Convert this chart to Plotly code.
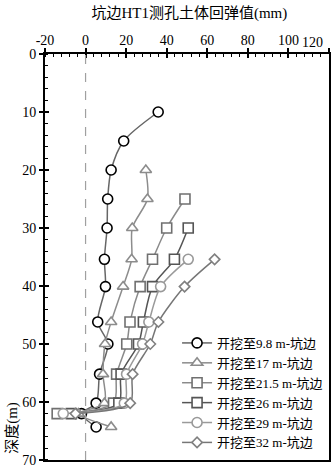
import plotly.graph_objects as go

FONT = "Liberation Serif, 'Noto Sans CJK SC', serif"

# depths (m)
d_98 = [10, 15, 20, 25, 30, 35.4, 40.1, 46.2, 50, 55.2, 60.2, 62, 64.3]
v_98 = [35.8, 18.8, 12.6, 10.9, 10.6, 9.3, 9.8, 6.0, 11.0, 6.9, 5.2, -2.0, 5.2]

d_17 = [20, 25, 30, 35.4, 40.1, 46.2, 50, 55.2, 60.2, 62, 64.3]
v_17 = [29.7, 30.5, 23.0, 22.7, 18.5, 12.6, 9.6, 8.6, 9.3, -3.5, 12.6]

d_215 = [25, 30, 35.4, 40.1, 46.2, 50, 55.2, 60.2, 62]
v_215 = [49.0, 40.0, 33.0, 26.9, 21.9, 20.3, 15.3, 13.8, -14.0]

d_26 = [30, 35.4, 40.1, 46.2, 50, 55.2, 60.2, 62]
v_26 = [50.6, 43.8, 33.0, 28.5, 26.1, 17.5, 16.4, -7.0]

d_29 = [35.4, 40.1, 46.2, 50, 55.2, 60.2, 62]
v_29 = [50.6, 37.0, 31.2, 28.1, 20.2, 19.1, -11.0]

d_32 = [35.4, 40.1, 46.2, 50, 55.2, 60.2, 62]
v_32 = [63.6, 48.8, 35.9, 31.9, 23.2, 22.0, -5.0]

names = ["开挖至9.8 m-坑边", "开挖至17 m-坑边", "开挖至21.5 m-坑边",
         "开挖至26 m-坑边", "开挖至29 m-坑边", "开挖至32 m-坑边"]

x_tick_vals = [-20, 0, 20, 40, 60, 80, 100, 120]
x_tick_text = ["-20", "0", "20", "40", "60", "80", "100", ""]
x_last_label = "120"   # drawn as an annotation, nudged inside the page like the original
y_tick_vals = [0, 10, 20, 30, 40, 50, 60, 70]

series = [
    (v_98, d_98, "circle", "#000000", "#666666", 10),
    (v_17, d_17, "triangle-up", "#8c8c8c", "#8c8c8c", 10),
    (v_215, d_215, "square", "#707070", "#8a8a8a", 10),
    (v_26, d_26, "square", "#555555", "#555555", 10),
    (v_29, d_29, "circle", "#999999", "#9a9a9a", 10),
    (v_32, d_32, "diamond", "#808080", "#767676", 8),
]

fig = go.Figure()
for (vx, dy, sym, mcol, lcol, sz), nm in zip(series, names):
    fig.add_trace(go.Scatter(
        x=vx, y=dy, name=nm, mode="lines+markers",
        line=dict(color=lcol, width=1.5, shape="spline", smoothing=0.8),
        marker=dict(symbol=sym, size=sz, color="white",
                    line=dict(color=mcol, width=1.6)),
    ))

# dummy trace for the overlay axes (inner half of crossing major ticks)
fig.add_trace(go.Scatter(x=[0], y=[0], xaxis="x2", yaxis="y2", mode="markers",
                         marker=dict(opacity=0), showlegend=False, hoverinfo="skip"))

fig.add_vline(x=0, line=dict(color="#a0a0a0", width=1.2, dash="dash"))

axis_common = dict(showgrid=False, zeroline=False, showline=True, linecolor="black",
                   linewidth=2, tickcolor="black", tickwidth=1.5,
                   tickfont=dict(family=FONT, size=14, color="black"))

fig.update_layout(
    width=334, height=471,
    margin=dict(l=45, r=3, t=54, b=8),
    plot_bgcolor="white", paper_bgcolor="white",
    font=dict(family=FONT, color="black"),
    title=dict(text="坑边HT1测孔土体回弹值(mm)", x=0.567, xanchor="center",
               y=0.973, yanchor="middle", font=dict(family=FONT, size=15, color="black")),
    xaxis=dict(range=[-20, 120.001], tickmode="array", tickvals=x_tick_vals,
               ticktext=x_tick_text, side="top", ticks="outside", ticklen=4,
               ticklabelstandoff=-3, mirror=True,
               minor=dict(dtick=4, tick0=0, ticks="inside", ticklen=3, tickcolor="black",
                          tickwidth=1),
               **axis_common),
    yaxis=dict(range=[70.001, 0], tickmode="array", tickvals=y_tick_vals,
               ticks="outside", ticklen=4, mirror=True,
               minor=dict(dtick=2, tick0=0, ticks="inside", ticklen=3, tickcolor="black",
                          tickwidth=1),
               **axis_common),
    xaxis2=dict(range=[-20, 120.001], tickmode="array", tickvals=x_tick_vals,
                overlaying="x", side="top",
                ticks="inside", ticklen=4, tickcolor="black", tickwidth=1.5,
                showticklabels=False, showgrid=False, zeroline=False, showline=False),
    yaxis2=dict(range=[70.001, 0], tickmode="array", tickvals=y_tick_vals,
                overlaying="y", side="left",
                ticks="inside", ticklen=4, tickcolor="black", tickwidth=1.5,
                showticklabels=False, showgrid=False, zeroline=False, showline=False),
    legend=dict(x=0.465, xanchor="left", y=0.005, yanchor="bottom",
                bgcolor="rgba(255,255,255,0)", borderwidth=0,
                font=dict(family=FONT, size=13, color="black"),
                tracegroupgap=0, itemwidth=30),
    annotations=[
        dict(text="深度(m)", xref="paper", yref="paper", x=-0.115, y=0.08,
             xanchor="center", yanchor="middle", textangle=-90, showarrow=False,
             font=dict(family=FONT, size=15, color="black")),
        dict(text=x_last_label, xref="x", yref="paper", x=x_tick_vals[-1], y=1,
             xanchor="right", yanchor="bottom", xshift=-4, yshift=2, showarrow=False,
             font=dict(family=FONT, size=14, color="black")),
    ],
    showlegend=True,
)

# remove the default 8px page margin so the figure fills the window
fig.write_html("out.html", config={"displayModeBar": False},
               post_script="document.body.style.margin='0';document.body.style.overflow='hidden';")
